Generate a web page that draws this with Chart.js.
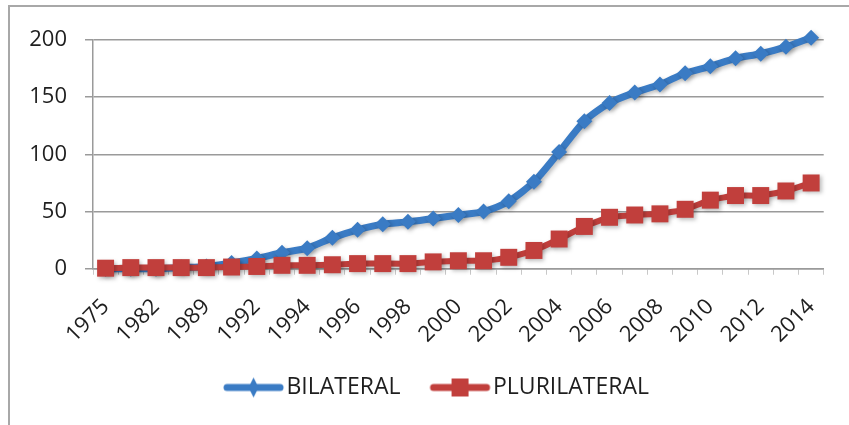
<!DOCTYPE html>
<html>
<head>
<meta charset="utf-8">
<script src="https://cdn.jsdelivr.net/npm/chart.js@4.4.1/dist/chart.umd.min.js"></script>
<style>
  body { margin: 0; background: #fff; }
  #wrap { position: relative; width: 849px; height: 425px; }
  #frame { position: absolute; left: 8px; top: 5px; right: 0; bottom: 0;
           border-left: 2px solid #a8a8a8; border-top: 2px solid #a8a8a8; pointer-events: none; }
  canvas { position: absolute; left: 0; top: 0; }
</style>
</head>
<body>
<div id="wrap">
  <canvas id="chart" width="849" height="425"></canvas>
  <div id="frame"></div>
</div>
<script>
// datos (acuerdos por año)
var years = ['1975', '1980', '1982', '1985', '1989', '1990',
  '1992', '1993', '1994', '1995', '1996', '1997', '1998', '1999', '2000',
  '2001', '2002', '2003', '2004', '2005', '2006', '2007', '2008', '2009',
  '2010', '2011', '2012', '2013', '2014'];
var bilateral = [0, 0, 0, 1, 2, 5,
  9, 14, 18, 27, 34, 39, 41, 44, 47,
  50, 59, 76, 102, 129, 145, 154, 161, 171,
  177, 184, 188, 194, 202];
var plurilateral = [0.5, 1, 1, 1, 1, 1.5,
  2, 3, 3, 3.5, 4.5, 4.5, 4.5, 6, 7,
  7, 10, 16, 26, 37, 45, 47, 48, 52,
  60, 64, 64, 68, 75];
var yTicks = [0, 50, 100, 150, 200];

var blue = '#3a7bc4';
var red = '#c13f3c';

// iconos de leyenda: linea con marcador (parte izquierda transparente)
function legendIcon(color, marker) {
    var c = document.createElement('canvas');
    c.width = 92;
    c.height = 22;
    var g = c.getContext('2d');
    g.strokeStyle = color;
    g.lineWidth = 7;
    g.lineCap = 'round';
    g.beginPath();
    g.moveTo(34, 11);
    g.lineTo(87, 11);
    g.stroke();
    g.fillStyle = color;
    var cx = 60.5;
    if (marker === 'diamond') {
        g.beginPath();
        g.moveTo(cx, 1);
        g.lineTo(cx + 5, 11);
        g.lineTo(cx, 21);
        g.lineTo(cx - 5, 11);
        g.closePath();
        g.fill();
    } else {
        g.fillRect(cx - 8.5, 2, 17, 18);
    }
    return c;
}
var legendIcons = [legendIcon(blue, 'diamond'), legendIcon(red, 'square')];

var shadowPlugin = {
    id: 'shadow',
    beforeDatasetsDraw: function (chart) {
        var ctx = chart.ctx;
        ctx.save();
        ctx.shadowColor = 'rgba(0,0,0,0.25)';
        ctx.shadowBlur = 4;
        ctx.shadowOffsetX = 2;
        ctx.shadowOffsetY = 2;
    },
    afterDatasetsDraw: function (chart) {
        chart.ctx.restore();
    }
};

Chart.defaults.font.family = "'Open Sans', sans-serif";
Chart.defaults.font.size = 22;
Chart.defaults.color = '#1e1e1e';

var defaultLabels = Chart.defaults.plugins.legend.labels.generateLabels;

var chart = new Chart(document.getElementById('chart'), {
    type: 'line',
    data: {
        labels: years,
        datasets: [
            {
                label: 'BILATERAL',
                data: bilateral,
                borderColor: blue,
                backgroundColor: blue,
                borderWidth: 7,
                pointStyle: 'rectRot',
                pointRadius: 8,
                pointBorderWidth: 0,
                tension: 0.25,
                order: 1,
                clip: false
            },
            {
                label: 'PLURILATERAL',
                data: plurilateral,
                borderColor: red,
                backgroundColor: red,
                borderWidth: 6,
                pointStyle: 'rect',
                pointRadius: 12,
                pointBorderWidth: 0,
                tension: 0.15,
                order: 0,
                clip: false
            }
        ]
    },
    options: {
        responsive: false,
        animation: false,
        layout: { padding: { left: 14, right: 11, top: 40, bottom: 16 } },
        scales: {
            x: {
                offset: true,
                grid: { drawOnChartArea: false, tickLength: 6, color: '#c8c8c8', offset: true },
                border: { color: '#9a9a9a', width: 1.5 },
                ticks: {
                    autoSkip: false,
                    minRotation: 45,
                    maxRotation: 45,
                    padding: 19,
                    callback: function (value, index) {
                        return index % 2 === 0 ? years[index] : '';
                    }
                }
            },
            y: {
                min: 0,
                max: 200,
                afterFit: function (scale) {
                    scale.width = 79;
                    // las etiquetas salen del ancho fijado, no recortarlas
                    scale._computeLabelArea = function () { return undefined; };
                },
                afterBuildTicks: function (scale) {
                    scale.ticks = yTicks.map(function (v) { return { value: v }; });
                },
                grid: { color: '#9a9a9a', lineWidth: 1.5, tickLength: 8 },
                border: { color: '#9a9a9a', width: 1.5 },
                ticks: { padding: 18 }
            }
        },
        plugins: {
            legend: {
                position: 'bottom',
                labels: {
                    usePointStyle: true,
                    pointStyleWidth: 72,
                    padding: 9,
                    color: '#1e1e1e',
                    font: { size: 23 },
                    generateLabels: function (c) {
                        var items = defaultLabels(c);
                        items.sort(function (a, b) { return a.datasetIndex - b.datasetIndex; });
                        items.forEach(function (it) { it.pointStyle = legendIcons[it.datasetIndex]; });
                        return items;
                    }
                }
            },
            tooltip: { enabled: false }
        }
    },
    plugins: [shadowPlugin]
});
</script>
</body>
</html>
